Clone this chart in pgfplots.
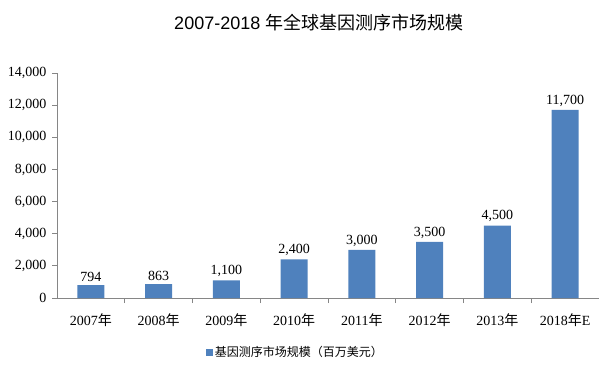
\documentclass[border=0pt]{standalone}
\usepackage{fontspec}
\setmainfont{Liberation Serif}
\newfontfamily\cjk{Noto Sans CJK SC}
\newfontfamily\titlesans{Liberation Sans}
\usepackage{pgfplots}
\pgfplotsset{compat=1.18}
\definecolor{barblue}{HTML}{4F81BD}
\definecolor{axgray}{HTML}{868686}
\begin{document}
\begin{tikzpicture}[x=1pt,y=1pt]
\useasboundingbox (0,0) rectangle (602,376);
\begin{axis}[
  at={(57pt,78pt)}, anchor=south west,
  scale only axis, width=542pt, height=225pt,
  xmin=-0.5, xmax=7.5, ymin=0, ymax=14000,
  axis x line*=bottom, axis y line*=left,
  axis line style={draw=axgray, line width=0.8pt},
  every tick/.style={draw=axgray, line width=0.8pt},
  tick align=outside, major tick length=5pt, minor tick length=5pt,
  ytick={0,2000,...,14000},
  scaled y ticks=false,
  /pgf/number format/.cd, 1000 sep={,}, assume math mode=true, /pgfplots/.cd,
  yticklabel={\rmfamily\pgfmathprintnumber{\tick}},
  xtick={0,...,7},
  xticklabels={2007{\cjk 年},2008{\cjk 年},2009{\cjk 年},2010{\cjk 年},2011{\cjk 年},2012{\cjk 年},2013{\cjk 年},2018{\cjk 年}E},
  major x tick style={draw=none},
  minor xtick={0.5,1.5,...,6.5},
  tick label style={font=\rmfamily\fontsize{14}{14}\selectfont},
  xticklabel style={yshift=-7pt},
  yticklabel style={xshift=-2pt},
  ybar, bar width=27pt,
  nodes near coords,
  every node near coord/.append style={font=\rmfamily\fontsize{14}{14}\selectfont, text=black},
  title={\titlesans\fontsize{18}{18}\selectfont 2007-2018 {\cjk 年全球基因测序市场规模}},
  title style={at={(0.483,1.197)}, anchor=center},
  legend style={at={(0.44,-0.24)}, anchor=center, draw=none, font=\cjk\fontsize{12}{12}\selectfont},
  legend image code/.code={\fill[barblue] (0pt,-3.5pt) rectangle (7pt,3.5pt);},
]
\addplot[fill=barblue, draw=none] coordinates {(0,794) (1,863) (2,1100) (3,2400) (4,3000) (5,3500) (6,4500) (7,11700)};
\addlegendentry{基因测序市场规模（百万美元）}
\end{axis}
\end{tikzpicture}
\end{document}
